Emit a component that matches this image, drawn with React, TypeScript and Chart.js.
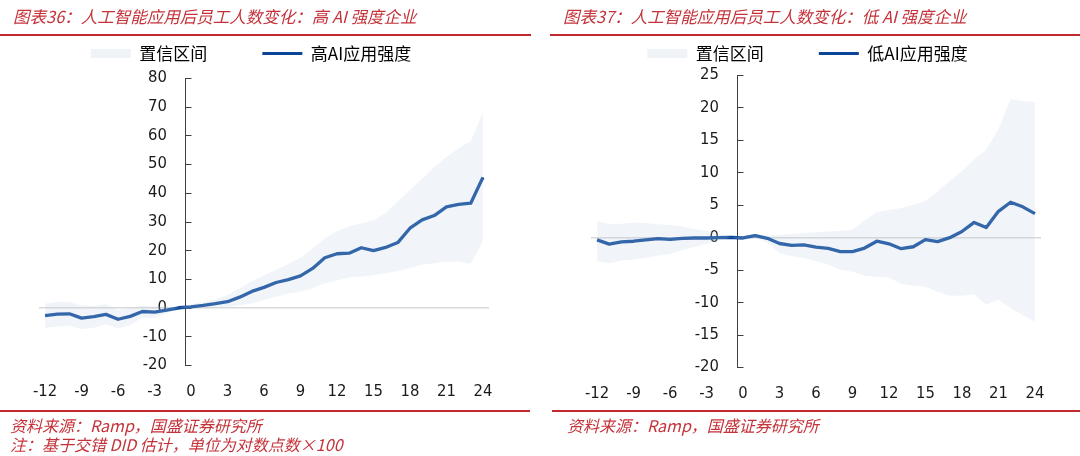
import React, { useEffect, useRef } from "react";
import { Chart, registerables } from "chart.js";

Chart.register(...registerables);

// ---------- data ----------
const months = [-12, -11, -10, -9, -8, -7, -6, -5, -4, -3, -2, -1, 0, 1, 2, 3, 4, 5, 6, 7, 8, 9, 10, 11, 12, 13, 14, 15, 16, 17, 18, 19, 20, 21, 22, 23, 24];
const xTickValues = [-12, -9, -6, -3, 0, 3, 6, 9, 12, 15, 18, 21, 24];

const highTitle = "图表36：人工智能应用后员工人数变化：高 AI 强度企业";
const lowTitle = "图表37：人工智能应用后员工人数变化：低 AI 强度企业";
const bandLabel = "置信区间";
const highLabel = "高AI应用强度";
const lowLabel = "低AI应用强度";
const sourceText = "资料来源：Ramp，国盛证券研究所";
const noteText = "注：基于交错 DID 估计，单位为对数点数×100";

const highAI = [-2.7, -2.2, -2.1, -3.6, -3.1, -2.3, -4.0, -3.0, -1.3, -1.5, -0.8, 0, 0.3, 0.8, 1.4, 2.1, 3.7, 5.7, 7.1, 8.8, 9.8, 11.1, 13.7, 17.4, 18.8, 19.0, 20.9, 19.9, 21.0, 22.7, 27.7, 30.6, 32.1, 35.1, 36.0, 36.4, 45.4];
const highUpper = [1.5, 2.0, 2.0, 0.8, 0.6, 1.2, -0.8, -0.2, 0.8, 0.4, 0.6, 0, 1.2, 2.0, 3.0, 4.4, 6.8, 9.2, 11.2, 13.2, 15.2, 17.4, 20.6, 24.2, 26.6, 28.3, 29.4, 30.5, 33.0, 37.0, 41.0, 45.0, 49.0, 52.5, 55.5, 58.0, 68.0];
const highLower = [-7.0, -6.5, -6.2, -7.5, -7.0, -5.8, -7.2, -6.0, -3.5, -3.5, -2.0, 0, -0.5, -0.3, 0.0, 0.3, 0.9, 1.5, 2.7, 3.8, 5.0, 5.6, 6.8, 8.5, 9.5, 10.5, 10.8, 11.3, 12.0, 12.8, 13.8, 15.0, 15.5, 16.0, 16.0, 15.3, 23.0];

const lowAI = [-0.4, -1.05, -0.7, -0.6, -0.4, -0.2, -0.3, -0.15, -0.1, -0.1, -0.05, 0, -0.1, 0.25, -0.15, -0.95, -1.25, -1.15, -1.5, -1.7, -2.2, -2.2, -1.65, -0.6, -1.0, -1.75, -1.45, -0.35, -0.65, -0.05, 0.9, 2.3, 1.5, 4.0, 5.4, 4.7, 3.65];
const lowUpper = [2.5, 2.0, 2.1, 2.3, 2.2, 2.0, 1.9, 1.7, 1.3, 1.0, 0.6, 0, 0.2, 0.5, 0.3, 0.4, 0.5, 0.7, 0.8, 0.9, 1.0, 1.2, 2.6, 3.9, 4.2, 4.5, 5.0, 5.6, 7.1, 8.7, 10.2, 12.0, 13.5, 16.7, 21.3, 21.0, 20.8];
const lowLower = [-3.7, -4.0, -3.6, -3.4, -3.2, -2.8, -2.6, -2.0, -1.5, -1.0, -0.6, 0, -0.4, -0.1, -0.8, -2.4, -2.9, -3.2, -3.7, -4.2, -5.0, -5.3, -5.9, -6.1, -6.2, -7.2, -7.4, -7.6, -8.4, -9.0, -9.0, -8.8, -10.4, -9.6, -10.9, -12.0, -13.0];

const highYTicks = [-20, -10, 0, 10, 20, 30, 40, 50, 60, 70, 80];
const lowYTicks = [-20, -15, -10, -5, 0, 5, 10, 15, 20, 25];

// ---------- styles ----------
const LINE_COLOR = "#0a4597";
const BAND_COLOR = "rgba(196,212,234,0.23)";
const BAND_LEGEND = "#eff2f7";
const RED = "#c1272d";
const TEXT_RED = "#c4323a";
const AXIS_COLOR = "#404040";
const TICK_FONT = "'DejaVu Sans Condensed', 'Liberation Sans', Arial, sans-serif";
const CJK_FONT = "'Noto Sans CJK SC', 'Noto Sans', sans-serif";

// y axis crosses the category axis half a month before month 0
const AXIS_CROSS = -0.5;
const LABEL_GAP_PX = 18;

type PanelCfg = {
  values: number[];
  upper: number[];
  lower: number[];
  label: string;
  yTicks: number[];
  canvasLeft: number;
  canvasWidth: number;
  canvasHeight: number;
  padLeft: number;
  padRight: number;
  dummyWidth: number;
  legendHeight: number;
};

function ChartCanvas({ cfg }: { cfg: PanelCfg }) {
  const ref = useRef<HTMLCanvasElement | null>(null);
  useEffect(() => {
    const el = ref.current;
    if (!el) return;
    const pts = (arr: number[]) => months.map((m, i) => ({ x: m, y: arr[i] }));

    // label anchor: LABEL_GAP_PX to the left of the axis line, in x units
    const plotWidth = cfg.canvasWidth - cfg.padLeft - cfg.padRight - cfg.dummyWidth;
    const unitPx = plotWidth / 37;
    const labelAnchor = AXIS_CROSS - LABEL_GAP_PX / unitPx;

    const legendHeightPlugin = {
      id: "legendHeight",
      beforeLayout(chart: any) {
        const lg = chart.legend;
        if (lg && !lg.__patched) {
          const orig = lg.fit.bind(lg);
          lg.fit = function () {
            orig();
            this.height = cfg.legendHeight;
          };
          lg.__patched = true;
        }
      },
    };

    const axisPlugin = {
      id: "yAxisLine",
      beforeDatasetsDraw(chart: any) {
        const ys = chart.scales.y;
        const xs = chart.scales.x;
        const c = chart.ctx;
        const px = Math.round(xs.getPixelForValue(AXIS_CROSS)) + 0.5;
        c.save();
        c.beginPath();
        c.strokeStyle = AXIS_COLOR;
        c.lineWidth = 1;
        c.moveTo(px, Math.round(ys.getPixelForValue(ys.max)));
        c.lineTo(px, Math.round(ys.getPixelForValue(ys.min)) + 1);
        ys.ticks.forEach((t: any) => {
          const py = Math.round(ys.getPixelForValue(t.value)) + 0.5;
          c.moveTo(px, py);
          c.lineTo(px + 6, py);
        });
        c.stroke();
        c.restore();
      },
    };

    const chart = new Chart(el, {
      type: "line",
      data: {
        datasets: [
          {
            label: bandLabel,
            data: pts(cfg.upper),
            fill: "+1",
            backgroundColor: BAND_COLOR,
            borderColor: "rgba(0,0,0,0)",
            borderWidth: 0,
            pointRadius: 0,
            tension: 0,
          },
          {
            label: "lower",
            data: pts(cfg.lower),
            fill: false,
            borderColor: "rgba(0,0,0,0)",
            borderWidth: 0,
            pointRadius: 0,
            tension: 0,
          },
          {
            label: cfg.label,
            data: pts(cfg.values),
            fill: false,
            borderColor: LINE_COLOR,
            borderWidth: 3.3,
            pointRadius: 0,
            tension: 0,
            borderJoinStyle: "round",
          },
        ],
      },
      options: {
        responsive: false,
        animation: false,
        events: [],
        layout: { padding: { left: cfg.padLeft, right: cfg.padRight, top: 0, bottom: 0 } },
        plugins: {
          tooltip: { enabled: false },
          legend: {
            display: true,
            position: "top",
            align: "center",
            labels: {
              usePointStyle: true,
              pointStyleWidth: 40,
              boxHeight: 9,
              padding: 55,
              color: "#222",
              font: { size: 17, family: CJK_FONT },
              generateLabels: () => [
                {
                  text: bandLabel,
                  fillStyle: BAND_LEGEND,
                  strokeStyle: "rgba(0,0,0,0)",
                  lineWidth: 0,
                  pointStyle: "rect",
                  datasetIndex: 0,
                } as any,
                {
                  text: cfg.label,
                  fillStyle: LINE_COLOR,
                  strokeStyle: LINE_COLOR,
                  lineWidth: 3,
                  pointStyle: "line",
                  datasetIndex: 2,
                } as any,
              ],
            },
          },
        },
        scales: {
          x: {
            type: "linear",
            min: -12.5,
            max: 24.5,
            position: "bottom",
            grid: { display: false, drawTicks: false },
            border: { display: false },
            afterBuildTicks: (s: any) => {
              s.ticks = xTickValues.map((v) => ({ value: v }));
            },
            ticks: {
              autoSkip: false,
              maxRotation: 0,
              padding: 17,
              color: "#1a1a1a",
              font: { size: 16.5, family: TICK_FONT },
              callback: (v: any) => String(v),
            },
          },
          y: {
            type: "linear",
            min: cfg.yTicks[0],
            max: cfg.yTicks[cfg.yTicks.length - 1],
            position: { x: labelAnchor } as any,
            afterBuildTicks: (s: any) => {
              s.ticks = cfg.yTicks.map((v) => ({ value: v }));
            },
            grid: {
              drawTicks: false,
              lineWidth: 1.5,
              color: (ctx: any) => (ctx.tick && ctx.tick.value === 0 ? "#d9d9d9" : "rgba(0,0,0,0)"),
            },
            border: { display: false },
            ticks: {
              padding: 0,
              color: "#1a1a1a",
              font: { size: 16.5, family: TICK_FONT },
              callback: (v: any) => String(v),
            },
          },
          yPad: {
            type: "linear",
            position: "left",
            display: true,
            grid: { display: false, drawTicks: false },
            border: { display: false },
            ticks: { display: false },
            afterFit: (s: any) => {
              s.width = cfg.dummyWidth;
            },
          },
        },
      } as any,
      plugins: [legendHeightPlugin, axisPlugin],
    });
    return () => chart.destroy();
  }, [cfg]);

  return (
    <canvas
      ref={ref}
      width={cfg.canvasWidth}
      height={cfg.canvasHeight}
      style={{
        position: "absolute",
        left: cfg.canvasLeft,
        top: -10,
        width: cfg.canvasWidth,
        height: cfg.canvasHeight,
      }}
    />
  );
}

const leftCfg: PanelCfg = {
  values: highAI,
  upper: highUpper,
  lower: highLower,
  label: highLabel,
  yTicks: highYTicks,
  canvasLeft: 0,
  canvasWidth: 530,
  canvasHeight: 429,
  padLeft: 13,
  padRight: 41,
  dummyWidth: 26,
  legendHeight: 88,
};

const rightCfg: PanelCfg = {
  values: lowAI,
  upper: lowUpper,
  lower: lowLower,
  label: lowLabel,
  yTicks: lowYTicks,
  canvasLeft: 540,
  canvasWidth: 540,
  canvasHeight: 431,
  padLeft: 34,
  padRight: 39,
  dummyWidth: 17,
  legendHeight: 85,
};

const textBase: React.CSSProperties = {
  position: "absolute",
  whiteSpace: "nowrap",
  fontFamily: CJK_FONT,
  fontStyle: "italic",
  color: TEXT_RED,
};

export default function App() {
  return (
    <div
      style={{
        position: "absolute",
        left: 0,
        top: 0,
        width: 1080,
        height: 456,
        overflow: "hidden",
        background: "#ffffff",
      }}
    >
      <ChartCanvas cfg={leftCfg} />
      <ChartCanvas cfg={rightCfg} />

      <div style={{ ...textBase, left: 13, top: 4, fontSize: 16.5, lineHeight: "24px" }}>{highTitle}</div>
      <div style={{ ...textBase, left: 563, top: 4, fontSize: 16.5, lineHeight: "24px" }}>{lowTitle}</div>

      <div style={{ position: "absolute", left: 0, top: 34, width: 531, height: 2, background: RED }} />
      <div style={{ position: "absolute", left: 550, top: 34, width: 530, height: 2, background: RED }} />

      <div style={{ position: "absolute", left: 0, top: 410, width: 530, height: 2, background: RED }} />
      <div style={{ position: "absolute", left: 552, top: 410, width: 528, height: 2, background: RED }} />

      <div style={{ ...textBase, left: 10, top: 415, fontSize: 16, lineHeight: "20px" }}>{sourceText}</div>
      <div style={{ ...textBase, left: 10, top: 434, fontSize: 16, lineHeight: "20px" }}>{noteText}</div>
      <div style={{ ...textBase, left: 567, top: 415, fontSize: 16, lineHeight: "20px" }}>{sourceText}</div>
    </div>
  );
}
